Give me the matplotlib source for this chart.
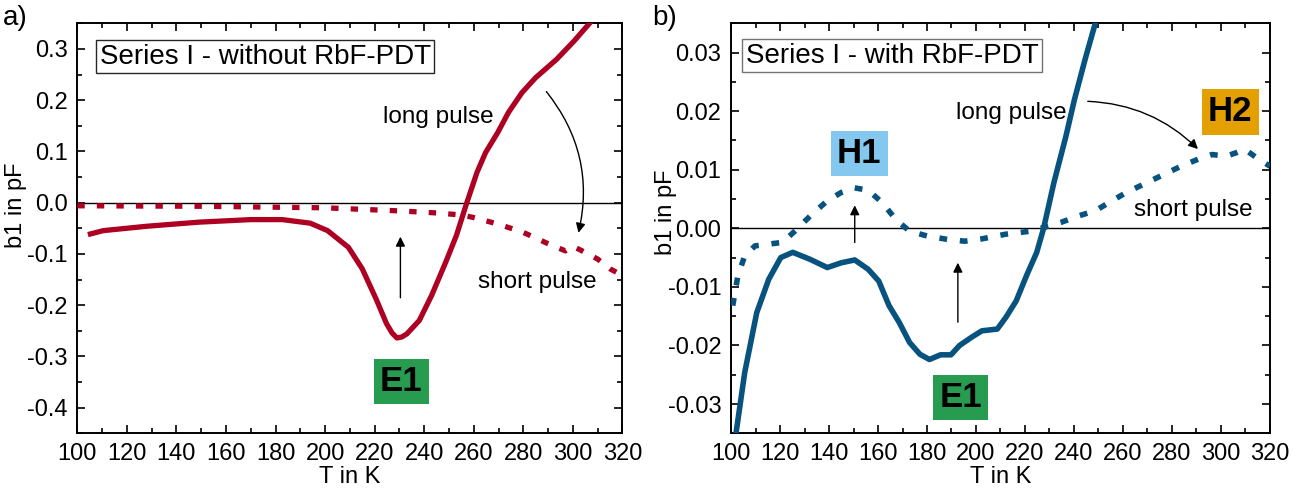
import matplotlib
matplotlib.use("Agg")
import matplotlib.pyplot as plt
from matplotlib.ticker import MultipleLocator
import numpy as np

plt.rcParams['font.family'] = ['Liberation Sans', 'DejaVu Sans']
plt.rcParams['axes.unicode_minus'] = False

# panel a) - without RbF-PDT
a_long_T = [105.3, 110.5, 128, 149, 170, 182.7, 194, 201, 209.4, 215, 220.6, 224.8, 227, 229, 231, 233,
            238, 243, 248.7, 253, 257, 261.3, 264.8, 269.7, 274, 279.5, 285, 293.5, 300.6, 306.9]
a_long_b1 = [-0.061, -0.0545, -0.046, -0.038, -0.033, -0.033, -0.040, -0.0545, -0.087, -0.129, -0.188,
             -0.236, -0.254, -0.264, -0.262, -0.256, -0.23, -0.181, -0.116, -0.064, -0.003, 0.059,
             0.098, 0.137, 0.176, 0.215, 0.244, 0.28, 0.316, 0.351]
a_short_T = [100, 150, 200, 230, 245, 255, 260, 270, 280, 290, 297, 300, 305, 310, 315, 320]
a_short_b1 = [-0.006, -0.007, -0.010, -0.016, -0.020, -0.024, -0.029, -0.042, -0.058, -0.080,
              -0.094, -0.085, -0.097, -0.110, -0.129, -0.142]

# panel b) - with RbF-PDT
b_long_T = [102.1, 105.6, 110.5, 115.4, 120.3, 125.2, 132.3, 139.3, 144.9, 150.5, 156, 160.3, 164.5,
            168.7, 172.9, 177.1, 181, 185.5, 189.8, 193.3, 198.2, 202.4, 208.7, 212.2, 216.4, 220.6,
            224.8, 227.6, 231.8, 236.7, 240.2, 244.5, 248.7]
b_long_b1 = [-0.0348, -0.0246, -0.0144, -0.0087, -0.0050, -0.0041, -0.0053, -0.0067, -0.0059, -0.0054,
             -0.0070, -0.0090, -0.0132, -0.0161, -0.0195, -0.0215, -0.0224, -0.0216, -0.0216, -0.0200,
             -0.0186, -0.0175, -0.0172, -0.0152, -0.0124, -0.0081, -0.0041, 0.0, 0.0078, 0.0157,
             0.0220, 0.0288, 0.0350]
b_short_T = [100.7, 102.8, 105.6, 109.8, 115.4, 121, 126, 132.3, 139.3, 144.9, 150.5, 156, 161.7, 167.3,
             172.9, 180, 188.4, 195.4, 202.4, 212.2, 222, 229, 234.6, 241.7, 248.7, 254.3, 261.3,
             268.3, 276.7, 283.7, 290.7, 296.4, 302, 306.2, 309.7, 314.7, 320]
b_short_b1 = [-0.0132, -0.0081, -0.0047, -0.0030, -0.0027, -0.0024, -0.0005, 0.0021, 0.0047, 0.0061,
              0.0069, 0.0065, 0.0044, 0.0015, -0.0005, -0.0013, -0.0019, -0.0022, -0.0018, -0.0010,
              -0.0005, 0.0003, 0.0010, 0.0021, 0.0030, 0.0044, 0.0061, 0.0075, 0.0092, 0.0106,
              0.0118, 0.0126, 0.0123, 0.0129, 0.0135, 0.0120, 0.0106]

red = '#AE0022'
blue = '#07527F'
green = '#279C50'
lightblue = '#84C8EF'
orange = '#E3A000'

fig = plt.figure(figsize=(13.04, 4.92), dpi=100)
ax1 = fig.add_axes([0.0593, 0.1193, 0.418, 0.8333])
ax2 = fig.add_axes([0.5606, 0.1193, 0.4133, 0.8333])

for ax in (ax1, ax2):
    ax.set_xlim(100, 320)
    ax.xaxis.set_major_locator(MultipleLocator(20))
    ax.xaxis.set_minor_locator(MultipleLocator(10))
    ax.tick_params(which='both', direction='in', top=True, right=True, labelsize=17, width=1.2)
    ax.tick_params(which='major', length=6, pad=7)
    ax.tick_params(which='minor', length=3.5)
    ax.axhline(0, color='k', lw=1, zorder=1)
    for s in ax.spines.values():
        s.set_linewidth(1.4)
    ax.set_xlabel('T in K', fontsize=17, labelpad=1)

# ---- a)
ax1.set_ylim(-0.45, 0.35)
ax1.set_yticks(np.arange(-0.4, 0.31, 0.1))
ax1.set_yticklabels(['-0.4', '-0.3', '-0.2', '-0.1', '0.0', '0.1', '0.2', '0.3'])
ax1.yaxis.set_minor_locator(MultipleLocator(0.05))
ax1.plot(a_long_T, a_long_b1, color=red, lw=3.8, zorder=3)
ax1.plot(a_short_T, a_short_b1, color=red, lw=3.8, dashes=(1.4, 2.3), zorder=3)
ax1.set_ylabel('b1 in pF', fontsize=17)
ax1.yaxis.set_label_coords(-0.092, 0.557)

ax1.text(109, 0.285, 'Series I - without RbF-PDT', fontsize=20, va='center', ha='left',
         bbox=dict(boxstyle='square,pad=0.12', fc='white', ec='0.15', lw=1))
ax1.text(245.5, 0.168, 'long pulse', fontsize=17.5, ha='center', va='center')
ax1.text(285.5, -0.155, 'short pulse', fontsize=17.5, ha='center', va='center')
ax1.text(230.7, -0.349, 'E1', fontsize=25, fontweight='bold', ha='center', va='center',
         bbox=dict(boxstyle='square,pad=0.18', fc=green, ec='none'))
ax1.annotate('', xy=(230.4, -0.061), xytext=(230.4, -0.191),
             arrowprops=dict(arrowstyle='-|>', lw=1, color='k', mutation_scale=14))
ax1.annotate('', xy=(302, -0.064), xytext=(288.6, 0.221),
             arrowprops=dict(arrowstyle='-|>', lw=1, color='k', mutation_scale=14,
                             connectionstyle='arc3,rad=-0.25'))

# ---- b)
ax2.set_ylim(-0.035, 0.035)
ax2.set_yticks([-0.03, -0.02, -0.01, 0.0, 0.01, 0.02, 0.03])
ax2.set_yticklabels(['-0.03', '-0.02', '-0.01', '0.00', '0.01', '0.02', '0.03'])
ax2.yaxis.set_minor_locator(MultipleLocator(0.005))
ax2.plot(b_long_T, b_long_b1, color=blue, lw=4.0, zorder=3)
ax2.plot(b_short_T, b_short_b1, color=blue, lw=4.0, dashes=(1.4, 2.3), zorder=3)
ax2.set_ylabel('b1 in pF', fontsize=17)
ax2.yaxis.set_label_coords(-0.100, 0.54)

ax2.text(106, 0.0295, 'Series I - with RbF-PDT', fontsize=20, va='center', ha='left',
         bbox=dict(boxstyle='square,pad=0.12', fc='white', ec='0.45', lw=1))
ax2.text(214.5, 0.0197, 'long pulse', fontsize=17.5, ha='center', va='center')
ax2.text(288.7, 0.0031, 'short pulse', fontsize=17.5, ha='center', va='center')
ax2.text(152.3, 0.01275, 'H1', fontsize=25, fontweight='bold', ha='center', va='center',
         bbox=dict(boxstyle='square,pad=0.18', fc=lightblue, ec='none'))
ax2.text(303.8, 0.0199, 'H2', fontsize=25, fontweight='bold', ha='center', va='center',
         bbox=dict(boxstyle='square,pad=0.18', fc=orange, ec='none'))
ax2.text(193.8, -0.0289, 'E1', fontsize=25, fontweight='bold', ha='center', va='center',
         bbox=dict(boxstyle='square,pad=0.18', fc=green, ec='none'))
ax2.annotate('', xy=(150.5, 0.0044), xytext=(150.5, -0.0029),
             arrowprops=dict(arrowstyle='-|>', lw=1, color='k', mutation_scale=14))
ax2.annotate('', xy=(192.6, -0.0054), xytext=(192.6, -0.0165),
             arrowprops=dict(arrowstyle='-|>', lw=1, color='k', mutation_scale=14))
ax2.annotate('', xy=(291.4, 0.0132), xytext=(244.5, 0.0217),
             arrowprops=dict(arrowstyle='-|>', lw=1, color='k', mutation_scale=14,
                             connectionstyle='arc3,rad=-0.2'))

fig.text(0.002, 0.99, 'a)', fontsize=20, ha='left', va='top')
fig.text(0.5, 0.99, 'b)', fontsize=20, ha='left', va='top')

fig.savefig('out.png', dpi=100)
